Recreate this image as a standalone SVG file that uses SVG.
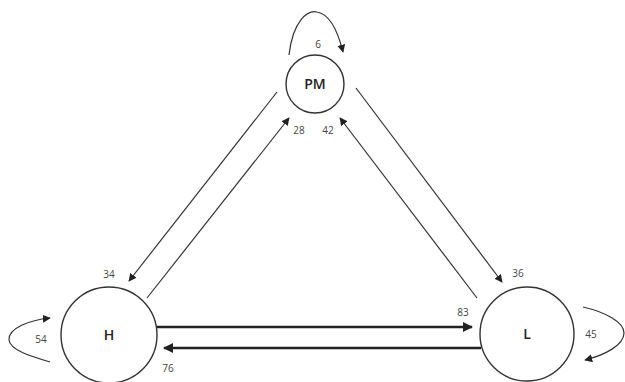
<svg xmlns="http://www.w3.org/2000/svg" width="625" height="382" viewBox="0 0 625 382">
  <defs>
    <style>
      .node { fill: #fff; stroke: #333; stroke-width: 1.4; }
      .name { font-family: "Open Sans", "Liberation Sans", sans-serif; font-size: 14px; font-weight: 600; fill: #222; text-anchor: middle; }
      .num { font-family: "Open Sans", "Liberation Sans", sans-serif; font-size: 10px; fill: #444; text-anchor: middle; }
      .thin { fill: none; stroke: #333; stroke-width: 1.2; marker-end: url(#tip); }
      .thick { fill: none; stroke: #222; stroke-width: 2.6; marker-end: url(#tipBold); }
    </style>
    <marker id="tip" viewBox="0 0 10 10" refX="9" refY="5" markerWidth="8" markerHeight="8" markerUnits="userSpaceOnUse" orient="auto">
      <path d="M0,0 L10,5 L0,10 Z" fill="#222"/>
    </marker>
    <marker id="tipBold" viewBox="0 0 10 10" refX="9" refY="5" markerWidth="10" markerHeight="10" markerUnits="userSpaceOnUse" orient="auto">
      <path d="M0,0 L10,5 L0,10 Z" fill="#222"/>
    </marker>
  </defs>

  <rect width="625" height="382" fill="#fff"/>

  <g id="connectors">
    <!-- self loops -->
    <path class="thin" d="M289,55 C293,20 308,10 317,12 C330,14 338,32 343,52"/>
    <path class="thin" d="M50,362 C30,356 10,350 9,340 C8,328 30,320 50,318"/>
    <path class="thin" d="M583,307 C605,312 624,322 624,333 C624,345 605,355 585,360"/>
    <!-- PM <-> H -->
    <path class="thin" d="M277,92 L129,281"/>
    <path class="thin" d="M147,298 L289,118"/>
    <!-- PM <-> L -->
    <path class="thin" d="M356,88 L502,282"/>
    <path class="thin" d="M477,298 L340,118"/>
    <!-- H <-> L -->
    <path class="thick" d="M157,327 L472,327"/>
    <path class="thick" d="M481,348 L164,348"/>
  </g>

  <g id="node-pm">
    <circle class="node" cx="315" cy="84" r="29"/>
    <text class="name" x="315" y="89">PM</text>
  </g>
  <g id="node-h">
    <circle class="node" cx="109" cy="335" r="48"/>
    <text class="name" x="109" y="340">H</text>
  </g>
  <g id="node-l">
    <circle class="node" cx="527" cy="334" r="47"/>
    <text class="name" x="527" y="339">L</text>
  </g>

  <g id="labels">
    <text class="num" x="318" y="48">6</text>
    <text class="num" x="299" y="134">28</text>
    <text class="num" x="328" y="134">42</text>
    <text class="num" x="109" y="278">34</text>
    <text class="num" x="518" y="277">36</text>
    <text class="num" x="41" y="343">54</text>
    <text class="num" x="591" y="338">45</text>
    <text class="num" x="463" y="316">83</text>
    <text class="num" x="168" y="372">76</text>
  </g>
</svg>
